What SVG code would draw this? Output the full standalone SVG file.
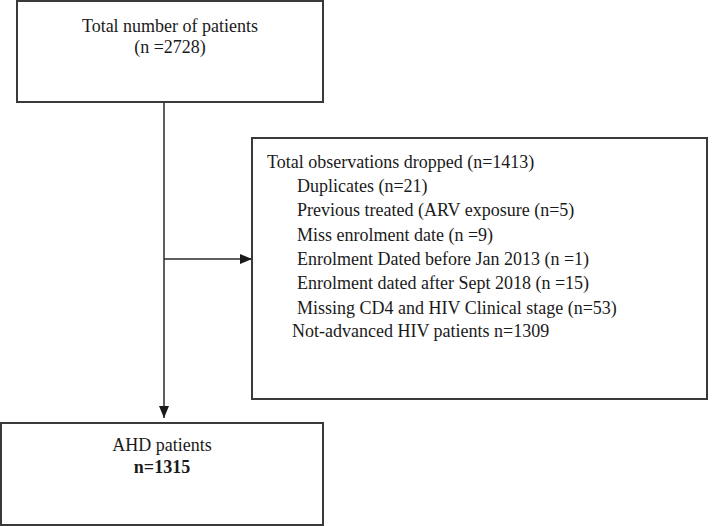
<svg xmlns="http://www.w3.org/2000/svg" width="712" height="526" viewBox="0 0 712 526">
<style>
.box{fill:#fff;stroke:#3a3a3a;stroke-width:2}
.t{font-family:"Liberation Serif","Times New Roman",serif;font-size:18px;fill:#1a1a1a}
.c{text-anchor:middle}
.b{font-weight:bold}
.ln{stroke:#2a2a2a;stroke-width:1.5;fill:none}
</style>
<defs>
<marker id="ah" markerWidth="12" markerHeight="10" refX="12" refY="5" orient="auto" markerUnits="userSpaceOnUse">
<path d="M0,0 L12,5 L0,10 Z" fill="#1a1a1a"/>
</marker>
</defs>
<rect width="712" height="526" fill="#fff"/>
<g id="connectors">
<line class="ln" x1="164" y1="102" x2="164" y2="418" marker-end="url(#ah)"/>
<line class="ln" x1="164" y1="259" x2="252" y2="259" marker-end="url(#ah)"/>
</g>
<g id="total">
<rect class="box" x="17" y="1" width="306" height="101"/>
<text class="t c" x="170" y="32">Total number of patients</text>
<text class="t c" x="170" y="53">(n =2728)</text>
</g>
<g id="dropped">
<rect class="box" x="252" y="138" width="455" height="261"/>
<text class="t" x="267" y="168">Total observations dropped (n=1413)</text>
<text class="t" x="297" y="192">Duplicates (n=21)</text>
<text class="t" x="297" y="216">Previous treated (ARV exposure (n=5)</text>
<text class="t" x="297" y="241">Miss enrolment date (n =9)</text>
<text class="t" x="297" y="265">Enrolment Dated before Jan 2013 (n =1)</text>
<text class="t" x="297" y="289">Enrolment dated after Sept 2018 (n =15)</text>
<text class="t" x="297" y="314">Missing CD4 and HIV Clinical stage (n=53)</text>
<text class="t" x="292" y="337">Not-advanced HIV patients n=1309</text>
</g>
<g id="ahd">
<rect class="box" x="1" y="423" width="322" height="102"/>
<text class="t c" x="162" y="451">AHD patients</text>
<text class="t c b" x="162" y="473">n=1315</text>
</g>
</svg>
